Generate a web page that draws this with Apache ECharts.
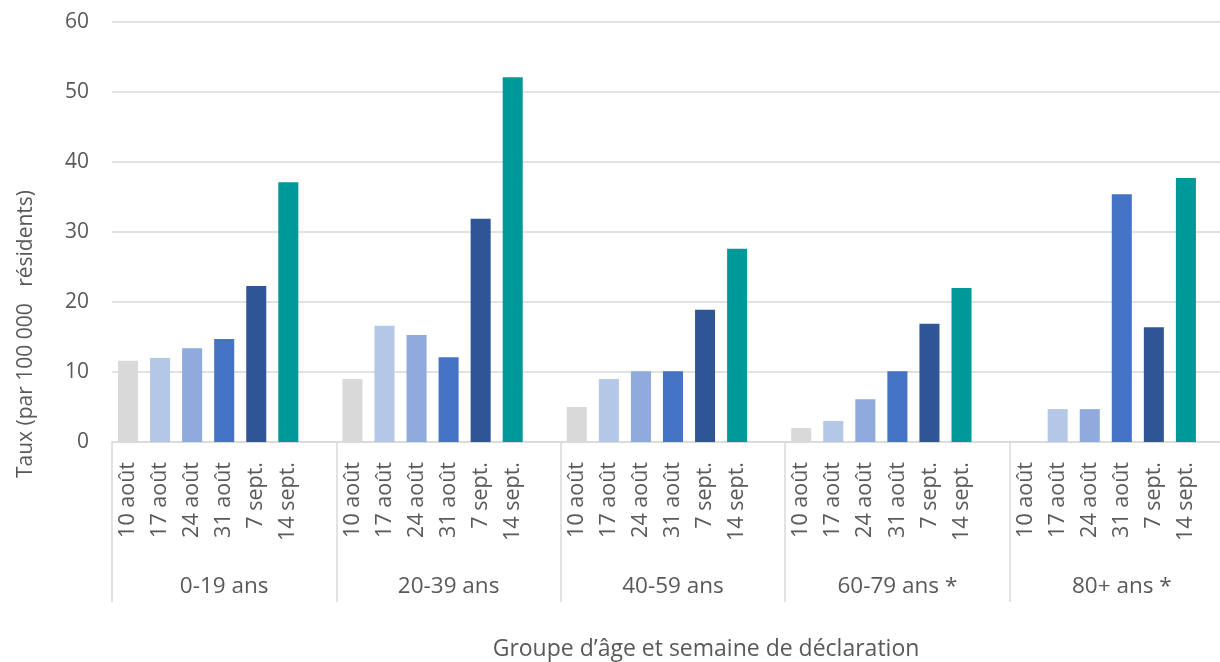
<!DOCTYPE html>
<html>
<head>
<meta charset="utf-8">
<script src="https://cdn.jsdelivr.net/npm/echarts@6/dist/echarts.min.js"></script>
<style>
  html, body { margin: 0; padding: 0; background: #ffffff; overflow: hidden; }
  #chart { width: 1240px; height: 662px; }
</style>
</head>
<body>
<div id="chart"></div>
<script>
// ---- data ----
const groups = ['0-19 ans', '20-39 ans', '40-59 ans', '60-79 ans *', '80+ ans *'];
const weeks = ['10 août', '17 août', '24 août', '31 août', '7 sept.', '14 sept.'];
const weekColors = ['#d9d9d9', '#b4c7e7', '#8faadc', '#4472c4', '#2f5597', '#009999'];
const rates019 = [11.6, 12.0, 13.4, 14.7, 22.3, 37.1];
const rates2039 = [9.0, 16.6, 15.3, 12.1, 31.9, 52.1];
const rates4059 = [5.0, 9.0, 10.1, 10.1, 18.9, 27.6];
const rates6079 = [2.0, 3.0, 6.1, 10.1, 16.9, 22.0];
const rates80 = [0, 4.7, 4.7, 35.4, 16.4, 37.7];
const yTicks = [0, 10, 20, 30, 40, 50, 60];
const yTitle = 'Taux (par 100 000   résidents)';
const xTitle = 'Groupe d’âge et semaine de déclaration';

const allRates = [rates019, rates2039, rates4059, rates6079, rates80];

// Flat category axis: 6 weeks + 1 empty slot per age group
const cats = [];
const barData = [];
allRates.forEach(function (arr) {
  weeks.forEach(function (w, i) {
    cats.push(w);
    barData.push({ value: arr[i], itemStyle: { color: weekColors[i] } });
  });
  cats.push('');
  barData.push('-');
});

const textColor = '#595959';
const fontFam = '"Open Sans", "Noto Sans", sans-serif';

const chart = echarts.init(document.getElementById('chart'), null, { renderer: 'canvas' });
chart.setOption({
  animation: false,
  backgroundColor: '#ffffff',
  textStyle: { fontFamily: fontFam },
  graphic: [
    {
      type: 'text',
      x: 706,
      y: 649,
      style: {
        text: xTitle,
        font: '23px "Open Sans", sans-serif',
        textAlign: 'center',
        textVerticalAlign: 'middle',
        fill: textColor
      }
    },
    {
      type: 'text',
      x: 26,
      y: 334,
      rotation: Math.PI / 2,
      style: {
        text: yTitle,
        font: '21px "Open Sans", sans-serif',
        textAlign: 'center',
        textVerticalAlign: 'middle',
        fill: textColor
      }
    }
  ],
  grid: { left: 112, right: 6, top: 22, bottom: 220, containLabel: false },
  xAxis: [
    {
      type: 'category',
      data: cats,
      position: 'bottom',
      axisLine: { show: true, lineStyle: { color: '#d9d9d9', width: 1.5 } },
      axisTick: { show: false },
      axisLabel: {
        interval: 0,
        rotate: 90,
        margin: 20,
        fontSize: 21.5,
        color: textColor,
        fontFamily: fontFam
      },
      splitLine: { show: false }
    },
    {
      type: 'category',
      data: groups,
      position: 'bottom',
      axisLine: { show: false },
      axisTick: { show: true, length: 160, inside: false, lineStyle: { color: '#d9d9d9', width: 1.5 } },
      axisLabel: {
        interval: 0,
        margin: 133,
        fontSize: 22.5,
        color: textColor,
        fontFamily: fontFam
      },
      splitLine: { show: false }
    }
  ],
  yAxis: {
    type: 'value',
    min: yTicks[0],
    max: yTicks[yTicks.length - 1],
    interval: 10,
    axisLine: { show: false },
    axisTick: { show: false },
    axisLabel: { fontSize: 21, color: textColor, margin: 23, fontFamily: fontFam },
    splitLine: { lineStyle: { color: '#d9d9d9', width: 1.5 } }
  },
  series: [
    {
      type: 'bar',
      xAxisIndex: 0,
      data: barData,
      barCategoryGap: '37.5%'
    }
  ]
});
</script>
</body>
</html>
